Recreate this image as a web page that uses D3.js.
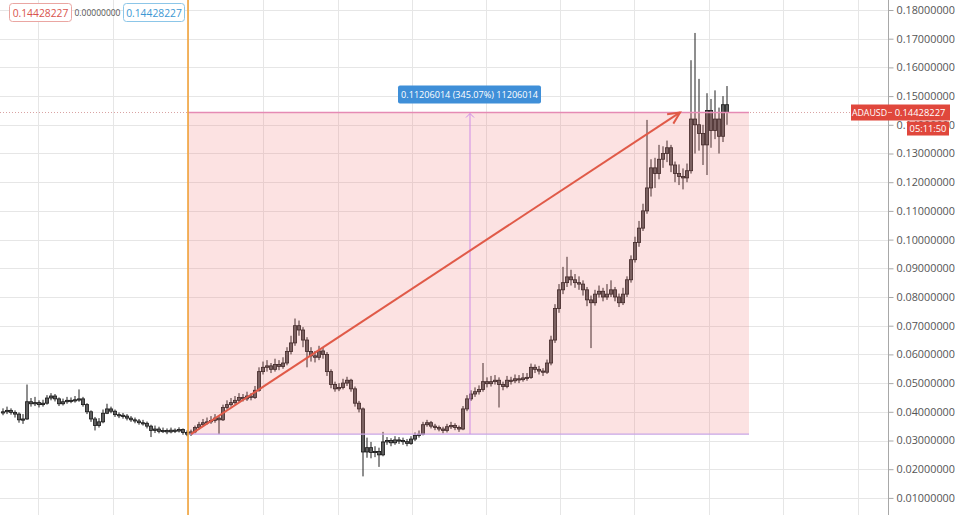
<!DOCTYPE html>
<html><head><meta charset="utf-8">
<script src="https://cdn.jsdelivr.net/npm/d3@7/dist/d3.min.js"></script>
<style>body{margin:0;background:#fff;}svg{display:block;font-family:"Open Sans",sans-serif;}</style>
</head><body>
<script>
// ---- data (ADAUSD candles) ----
const closes = [
0.0400,0.0405,0.0398,0.0392,0.0372,0.0375,0.0435,0.0428,0.0432,0.0425,
0.0430,0.0448,0.0455,0.0445,0.0428,0.0435,0.0440,0.0438,0.0442,0.0445,
0.0425,0.0400,0.0375,0.0352,0.0365,0.0395,0.0410,0.0402,0.0390,0.0388,
0.0385,0.0378,0.0372,0.0368,0.0362,0.0360,0.0350,0.0335,0.0340,0.0332,
0.0335,0.0330,0.0336,0.0333,0.0338,0.0328,0.0322,0.0330,0.0345,0.0355,
0.0362,0.0365,0.0370,0.0378,0.0372,0.0415,0.0425,0.0432,0.0440,0.0450,
0.0445,0.0455,0.0450,0.0475,0.0540,0.0555,0.0560,0.0548,0.0565,0.0558,
0.0570,0.0610,0.0640,0.0700,0.0685,0.0650,0.0610,0.0595,0.0590,0.0612,
0.0600,0.0540,0.0495,0.0480,0.0485,0.0500,0.0510,0.0480,0.0430,0.0410,
0.0260,0.0275,0.0258,0.0262,0.0250,0.0295,0.0300,0.0292,0.0302,0.0300,
0.0296,0.0290,0.0305,0.0318,0.0322,0.0355,0.0362,0.0350,0.0345,0.0340,
0.0335,0.0348,0.0352,0.0345,0.0340,0.0410,0.0445,0.0462,0.0470,0.0478,
0.0505,0.0498,0.0505,0.0510,0.0495,0.0488,0.0510,0.0508,0.0515,0.0512,
0.0518,0.0520,0.0555,0.0548,0.0542,0.0538,0.0570,0.0650,0.0760,0.0825,
0.0850,0.0870,0.0860,0.0850,0.0845,0.0825,0.0790,0.0780,0.0810,0.0820,
0.0800,0.0810,0.0825,0.0800,0.0780,0.0810,0.0860,0.0930,0.0990,0.1040,
0.1100,0.1180,0.1250,0.1230,0.1280,0.1300,0.1320,0.1260,0.1230,0.1220,
0.1215,0.1240,0.1420,0.1400,0.1370,0.1330,0.1450,0.1380,0.1420,0.1360,
0.1470,0.14428227];
const highs = [
0.0412,0.0418,0.0412,0.0405,0.0398,0.0392,0.0495,0.0448,0.0452,0.0440,
0.0442,0.0458,0.0465,0.0462,0.0450,0.0446,0.0452,0.0450,0.0455,0.0478,
0.0452,0.0430,0.0405,0.0382,0.0378,0.0408,0.0428,0.0418,0.0408,0.0398,
0.0396,0.0392,0.0385,0.0380,0.0375,0.0372,0.0366,0.0355,0.0352,0.0348,
0.0345,0.0342,0.0345,0.0342,0.0346,0.0342,0.0335,0.0338,0.0352,0.0365,
0.0375,0.0380,0.0385,0.0392,0.0385,0.0425,0.0440,0.0448,0.0455,0.0465,
0.0462,0.0470,0.0465,0.0490,0.0555,0.0575,0.0580,0.0570,0.0585,0.0580,
0.0590,0.0625,0.0665,0.0725,0.0718,0.0695,0.0660,0.0625,0.0612,0.0630,
0.0625,0.0608,0.0548,0.0505,0.0500,0.0515,0.0522,0.0515,0.0488,0.0438,
0.0415,0.0310,0.0295,0.0280,0.0275,0.0330,0.0312,0.0308,0.0315,0.0312,
0.0310,0.0305,0.0315,0.0328,0.0335,0.0365,0.0372,0.0368,0.0358,0.0352,
0.0348,0.0358,0.0365,0.0360,0.0352,0.0420,0.0458,0.0475,0.0485,0.0492,
0.0570,0.0520,0.0525,0.0528,0.0520,0.0505,0.0525,0.0522,0.0530,0.0528,
0.0535,0.0535,0.0568,0.0565,0.0560,0.0552,0.0582,0.0665,0.0775,0.0845,
0.0905,0.0940,0.0895,0.0880,0.0872,0.0858,0.0835,0.0805,0.0825,0.0840,
0.0832,0.0845,0.0858,0.0835,0.0812,0.0832,0.0872,0.0945,0.1010,0.1065,
0.1125,0.1417,0.1280,0.1285,0.1330,0.1325,0.1345,0.1330,0.1272,0.1262,
0.1248,0.1265,0.1625,0.1720,0.1560,0.1400,0.1510,0.1490,0.1520,0.1460,
0.1500,0.1535];
const lows = [
0.0388,0.0392,0.0390,0.0380,0.0362,0.0358,0.0372,0.0418,0.0420,0.0415,
0.0418,0.0425,0.0440,0.0436,0.0420,0.0422,0.0428,0.0430,0.0432,0.0435,
0.0418,0.0392,0.0365,0.0335,0.0345,0.0360,0.0392,0.0395,0.0382,0.0378,
0.0376,0.0370,0.0365,0.0360,0.0355,0.0352,0.0342,0.0312,0.0326,0.0325,
0.0326,0.0322,0.0325,0.0326,0.0328,0.0320,0.0315,0.0316,0.0325,0.0338,
0.0348,0.0355,0.0358,0.0362,0.0322,0.0368,0.0408,0.0418,0.0425,0.0432,
0.0436,0.0438,0.0440,0.0445,0.0470,0.0530,0.0540,0.0535,0.0540,0.0545,
0.0550,0.0562,0.0600,0.0630,0.0665,0.0625,0.0555,0.0575,0.0572,0.0580,
0.0585,0.0525,0.0482,0.0470,0.0472,0.0478,0.0490,0.0470,0.0418,0.0398,
0.0175,0.0240,0.0238,0.0242,0.0208,0.0245,0.0285,0.0280,0.0285,0.0288,
0.0285,0.0280,0.0285,0.0298,0.0310,0.0318,0.0348,0.0342,0.0336,0.0332,
0.0325,0.0328,0.0340,0.0336,0.0330,0.0336,0.0402,0.0438,0.0452,0.0460,
0.0470,0.0485,0.0488,0.0495,0.0415,0.0475,0.0482,0.0495,0.0500,0.0500,
0.0505,0.0508,0.0515,0.0535,0.0530,0.0525,0.0532,0.0562,0.0640,0.0745,
0.0810,0.0835,0.0840,0.0832,0.0825,0.0805,0.0768,0.0622,0.0770,0.0798,
0.0785,0.0790,0.0800,0.0785,0.0765,0.0772,0.0800,0.0850,0.0920,0.0975,
0.1030,0.1090,0.1150,0.1180,0.1210,0.1250,0.1270,0.1235,0.1200,0.1190,
0.1175,0.1200,0.1230,0.1300,0.1310,0.1260,0.1225,0.1320,0.1350,0.1300,
0.1340,0.1400];
const firstOpen = 0.0398;
const yTicks = [0.01,0.02,0.03,0.04,0.05,0.06,0.07,0.08,0.09,0.10,0.11,0.12,0.13,0.14,0.15,0.16,0.17,0.18];
const timeGrid = [8.75,27.5,46.25,65,83.75,102.25,120.75,139.25,157.75,176.5,195,213.75];
const lastPrice = 0.14428227;
const rangeLow = 0.03222213;
const startIdx = 46.25, endIdx = 186.5, midIdx = 116.75;
const arrowFrom = {i: 47, p: 0.0322}, arrowTo = {i: 169.25, p: 0.1443};
const symbol = "ADAUSD", countdown = "05:11:50";
const measureText = "0.11206014 (345.07%) 11206014";
const topLabels = ["0.14428227", "0.00000000", "0.14428227"];

// ---- build ----
const W = 960, H = 515, axisX = 888;
const candles = closes.map((c, i) => ({i, o: i ? closes[i-1] : firstOpen, c, h: highs[i], l: lows[i]}));
const x = d3.scaleLinear().domain([0, closes.length - 1]).range([3, 727]);
const y = d3.scaleLinear().domain([0.01, 0.18]).range([497.9, 10]);

const svg = d3.select("body").append("svg").attr("width", W).attr("height", H);
svg.append("rect").attr("width", W).attr("height", H).attr("fill", "#fff");

// grid
svg.append("g").selectAll("line").data(yTicks).join("line")
  .attr("x1", 0).attr("x2", axisX).attr("y1", d => Math.round(y(d)) + 0.5).attr("y2", d => Math.round(y(d)) + 0.5)
  .attr("stroke", "#e6e6e6").attr("stroke-width", 1);
svg.append("g").selectAll("line").data(timeGrid).join("line")
  .attr("x1", d => Math.round(x(d)) + 0.5).attr("x2", d => Math.round(x(d)) + 0.5).attr("y1", 0).attr("y2", H)
  .attr("stroke", "#e6e6e6").attr("stroke-width", 1);

// dotted last price line
svg.append("line").attr("x1", 0).attr("x2", axisX).attr("y1", y(lastPrice)).attr("y2", y(lastPrice))
  .attr("stroke", "#d9a3a3").attr("stroke-width", 1).attr("stroke-dasharray", "1,2");

// candles
const cg = svg.append("g");
cg.selectAll("line").data(candles).join("line")
  .attr("x1", d => x(d.i)).attr("x2", d => x(d.i)).attr("y1", d => y(d.h)).attr("y2", d => y(d.l))
  .attr("stroke", "#1e1e1e").attr("stroke-width", 1);
cg.selectAll("rect").data(candles).join("rect")
  .attr("x", d => x(d.i) - 1.6).attr("width", 3.2)
  .attr("y", d => y(Math.max(d.o, d.c))).attr("height", d => Math.max(1.2, Math.abs(y(d.o) - y(d.c))))
  .attr("fill", "#5e5e5e").attr("stroke", "#1a1a1a").attr("stroke-width", 0.8);

// range rectangle
const rx0 = x(startIdx), rx1 = x(endIdx), ry0 = y(lastPrice), ry1 = y(rangeLow);
svg.append("rect").attr("x", rx0).attr("y", ry0).attr("width", rx1 - rx0).attr("height", ry1 - ry0)
  .attr("fill", "rgba(240,110,110,0.2)");
svg.append("line").attr("x1", rx0).attr("x2", rx1).attr("y1", ry0).attr("y2", ry0).attr("stroke", "#e58ab4").attr("stroke-width", 1.5);
svg.append("line").attr("x1", rx0).attr("x2", rx1).attr("y1", ry1).attr("y2", ry1).attr("stroke", "#c9a6e6").attr("stroke-width", 1.2);

// measure vertical line
const mx = x(midIdx);
svg.append("line").attr("x1", mx).attr("x2", mx).attr("y1", ry0 + 1).attr("y2", ry1).attr("stroke", "#cf8be6").attr("stroke-width", 1);
svg.append("path").attr("d", `M${mx-4},${ry0+5}L${mx},${ry0+1}L${mx+4},${ry0+5}`).attr("fill", "none").attr("stroke", "#cf8be6").attr("stroke-width", 1);

// orange vertical line
svg.append("line").attr("x1", rx0).attr("x2", rx0).attr("y1", 0).attr("y2", H).attr("stroke", "#f2a33a").attr("stroke-width", 1.6);

// trend arrow
const ax0 = x(arrowFrom.i), ay0 = y(arrowFrom.p), ax1 = x(arrowTo.i), ay1 = y(arrowTo.p);
svg.append("line").attr("x1", ax0).attr("y1", ay0).attr("x2", ax1).attr("y2", ay1).attr("stroke", "#e05a48").attr("stroke-width", 2);
const ang = Math.atan2(ay1 - ay0, ax1 - ax0), hl = 13, ha = 0.45;
svg.append("path")
  .attr("d", `M${ax1 - hl*Math.cos(ang-ha)},${ay1 - hl*Math.sin(ang-ha)}L${ax1},${ay1}L${ax1 - hl*Math.cos(ang+ha)},${ay1 - hl*Math.sin(ang+ha)}`)
  .attr("fill", "none").attr("stroke", "#e05a48").attr("stroke-width", 2);

// measure label
const ml = svg.append("g");
ml.append("rect").attr("x", mx - 72).attr("y", ry0 - 27).attr("width", 143).attr("height", 18).attr("rx", 2).attr("fill", "#3f8fd8");
ml.append("text").attr("x", mx - 0.5).attr("y", ry0 - 14.5).attr("text-anchor", "middle").attr("fill", "#fff")
  .attr("font-size", 9.1).text(measureText);

// right axis
const axis = svg.append("g").attr("transform", `translate(${axisX + 0.5},0)`)
  .call(d3.axisRight(y).tickValues(yTicks).tickFormat(d3.format(".8f")).tickSize(5).tickPadding(3));
axis.select(".domain").attr("stroke", "#a8a8a8").attr("d", `M0,0V${H}`);
axis.selectAll(".tick line").attr("stroke", "#a8a8a8");
axis.selectAll(".tick text").attr("fill", "#555").attr("font-size", 10.8).attr("font-family", "Open Sans, sans-serif");

// price label
const py = y(lastPrice);
svg.append("rect").attr("x", 851).attr("y", py - 8).attr("width", 37).attr("height", 16).attr("fill", "#e0473c");
svg.append("text").attr("x", 869.5).attr("y", py + 3.3).attr("text-anchor", "middle").attr("fill", "#fff").attr("font-size", 8.8).text(symbol);
svg.append("rect").attr("x", axisX).attr("y", py - 8).attr("width", 62).attr("height", 16).attr("fill", "#e0473c");
svg.append("line").attr("x1", axisX).attr("x2", axisX + 4).attr("y1", py).attr("y2", py).attr("stroke", "#f4b0a8");
svg.append("text").attr("x", 920).attr("y", py + 3.3).attr("text-anchor", "middle").attr("fill", "#fff").attr("font-size", 9.4).text(d3.format(".8f")(lastPrice));
svg.append("rect").attr("x", 907).attr("y", py + 9).attr("width", 42).attr("height", 14).attr("fill", "#e0473c");
svg.append("text").attr("x", 928).attr("y", py + 19.5).attr("text-anchor", "middle").attr("fill", "#fff").attr("font-size", 9.3).text(countdown);

// top-left labels
const tl = svg.append("g");
tl.append("rect").attr("x", 9.5).attr("y", 3.5).attr("width", 62).attr("height", 18).attr("rx", 3).attr("fill", "#fff").attr("stroke", "#eaa6a2");
tl.append("text").attr("x", 40.5).attr("y", 16.5).attr("text-anchor", "middle").attr("fill", "#d9544d").attr("font-size", 10.3).text(topLabels[0]);
tl.append("text").attr("x", 97.5).attr("y", 15.5).attr("text-anchor", "middle").attr("fill", "#555").attr("font-size", 8.5).text(topLabels[1]);
tl.append("rect").attr("x", 123.5).attr("y", 3.5).attr("width", 61).attr("height", 18).attr("rx", 3).attr("fill", "#fff").attr("stroke", "#8cc6e8");
tl.append("text").attr("x", 154).attr("y", 16.5).attr("text-anchor", "middle").attr("fill", "#3d98d3").attr("font-size", 10.3).text(topLabels[2]);
</script>
</body></html>
